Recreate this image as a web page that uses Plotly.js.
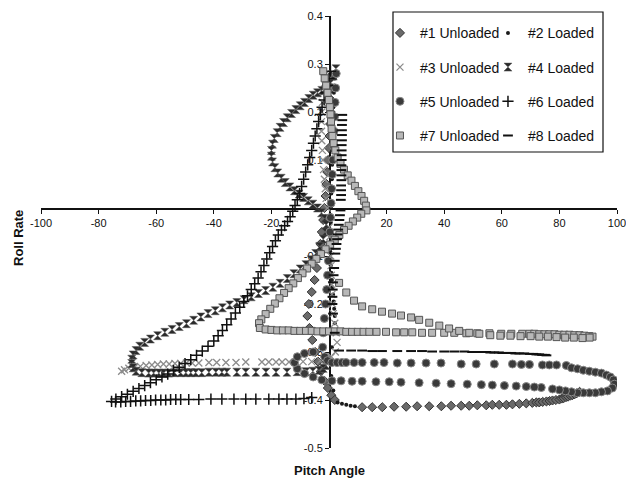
<!DOCTYPE html>
<html><head><meta charset="utf-8">
<script src="https://cdn.plot.ly/plotly-3.0.1.min.js"></script>
<style>html,body{margin:0;padding:0;background:#fff;}#chart{width:626px;height:481px;}</style>
</head><body><div id="chart"></div>
<script>
const seriesNames = ["#1 Unloaded","#2 Loaded","#3 Unloaded","#4 Loaded","#5 Unloaded","#6 Loaded","#7 Unloaded","#8 Loaded"];
const xTickVals = [-100,-80,-60,-40,-20,20,40,60,80,100];
const xTickText = ["-100","-80","-60","-40","-20","20","40","60","80","100"];
const yTickVals = [-0.5,-0.4,-0.3,-0.2,-0.1,0.1,0.2,0.3,0.4];
const yTickText = ["-0.5","-0.4","-0.3","-0.2","-0.1","0.1","0.2","0.3","0.4"];

const s1x = [1.2,1.0,0.8,0.6,0.4,0.2,0.0,-0.3,-0.6,-0.9,-1.2,-1.6,-2.0,-2.5,-3.0,-3.6,-4.2,-5.0,-6.0,-7.0,-7.5,-6.8,-5.8,-4.8,-3.8,-2.8,-1.6,-0.4,0.8,2.0,
 11.5,15.0,18.5,22.6,26.8,30.6,34.8,39.0,42.4,45.9,48.7,51.5,54.6,56.7,59.1,61.6,63.7,66.1,68.5,70.6,72.0,73.0,74.2,75.5,76.6,77.6,78.8,80.0,80.8,81.5,82.3,83.0,83.8,84.5,85.3,86.0,87.0];
const s1y = [0.275,0.25,0.225,0.2,0.175,0.15,0.125,0.1,0.075,0.05,0.025,0.0,-0.025,-0.05,-0.075,-0.1,-0.125,-0.15,-0.175,-0.2,-0.225,-0.25,-0.275,-0.3,-0.32,-0.34,-0.36,-0.375,-0.39,-0.4,
 -0.415,-0.415,-0.415,-0.414,-0.414,-0.413,-0.413,-0.413,-0.412,-0.412,-0.412,-0.411,-0.411,-0.41,-0.41,-0.41,-0.409,-0.408,-0.407,-0.406,-0.405,-0.405,-0.404,-0.403,-0.402,-0.401,-0.4,-0.399,-0.397,-0.396,-0.394,-0.393,-0.391,-0.39,-0.388,-0.386,-0.383];

const s2x = [2.0,1.8,1.7,1.6,1.5,1.5,1.4,1.4,1.3,1.3,1.2,1.2,1.1,1.0,1.0,0.9,0.8,0.8,0.7,0.6,0.6,0.5,0.5,0.4,0.4,0.5,0.6,0.8,1.0,1.2,1.4,1.6,1.8,2.0,2.0,1.5,1.0,0.5,0.8,1.5,3.0,4.5,6.0,7.5,9.0];
const s2y = [0.27,0.255,0.24,0.225,0.21,0.195,0.18,0.165,0.15,0.135,0.12,0.105,0.09,0.075,0.06,0.045,0.03,0.015,0.0,-0.015,-0.03,-0.045,-0.06,-0.075,-0.09,-0.105,-0.12,-0.135,-0.15,-0.165,-0.18,-0.195,-0.21,-0.225,-0.24,-0.26,-0.29,-0.32,-0.35,-0.38,-0.405,-0.408,-0.41,-0.412,-0.413];

const s3x = [-1.0,-1.5,-2.0,-2.3,-2.5,-2.6,-2.6,-2.5,-2.3,-2.1,-1.9,-1.6,-1.3,-1.0,-0.6,-0.3,0.0,0.3,0.5,0.6,0.7,0.8,0.9,1.0,1.2,1.5,2.0,2.5,2.8,2.2,
 0.8,-1.0,-3.0,-6.0,-9.0,-11.5,-13.9,-16.3,-18.4,-20.9,-23.3,-28.9,-32.3,-35.8,-39.0,-41.7,-45.2,-47.5,-49.5,-51.5,-53.5,-55.5,-57.5,-59.5,-61.5,-63.5,-65.5,-67.5,-69.5,-71.0,-72.0];
const s3y = [0.28,0.26,0.24,0.22,0.2,0.18,0.16,0.14,0.12,0.1,0.08,0.06,0.04,0.02,0.0,-0.02,-0.04,-0.06,-0.08,-0.1,-0.12,-0.14,-0.16,-0.18,-0.2,-0.22,-0.24,-0.26,-0.28,-0.3,
 -0.31,-0.315,-0.318,-0.32,-0.32,-0.321,-0.321,-0.321,-0.321,-0.321,-0.321,-0.321,-0.322,-0.322,-0.322,-0.322,-0.323,-0.323,-0.323,-0.324,-0.324,-0.325,-0.325,-0.326,-0.327,-0.328,-0.33,-0.332,-0.334,-0.337,-0.34];

const s4x = [2.4,1.5,0.5,-1.0,-2.5,-4.0,-5.5,-7.0,-8.5,-10.0,-11.5,-13.0,-14.5,-15.8,-17.0,-18.0,-19.0,-19.6,-20.0,-20.0,
 -19.6,-18.8,-17.8,-16.6,-15.2,-13.6,-12.0,-10.4,-8.8,-7.2,-5.6,-4.0,-2.6,-1.5,-1.0,-1.2,-2.0,-3.2,-4.6,-6.2,
 -8.0,-10.0,-12.2,-14.5,-17.0,-19.5,-22.0,-24.5,-27.0,-29.5,-32.0,-34.5,-37.0,-39.5,-42.0,-44.5,-47.0,-49.5,-52.0,-54.5,
 -57.0,-59.5,-62.0,-64.0,-65.7,-67.0,-68.0,-68.5,-68.5,-68.0,-67.0,-65.0,-62.6,-60.9,-59.1,-57.4,-55.7,-53.6,-51.5,-49.7,
 -48.0,-46.3,-44.2,-41.7,-39.3,-37.2,-35.5,-32.0,-28.9,-25.4,-21.9,-18.4,-14.6,-11.1,-8.0,-5.6,-3.5,-2.0,-1.0];
const s4y = [0.29,0.275,0.26,0.25,0.245,0.24,0.235,0.228,0.22,0.213,0.205,0.197,0.188,0.178,0.168,0.157,0.145,0.133,0.12,0.108,
 0.096,0.084,0.073,0.062,0.053,0.044,0.036,0.029,0.022,0.015,0.008,0.0,-0.01,-0.022,-0.035,-0.05,-0.065,-0.08,-0.095,-0.108,
 -0.118,-0.127,-0.137,-0.147,-0.157,-0.165,-0.172,-0.178,-0.185,-0.191,-0.197,-0.202,-0.208,-0.214,-0.22,-0.227,-0.234,-0.241,-0.247,-0.253,
 -0.259,-0.266,-0.273,-0.28,-0.288,-0.297,-0.306,-0.315,-0.324,-0.333,-0.34,-0.343,-0.344,-0.344,-0.344,-0.344,-0.344,-0.343,-0.343,-0.343,
 -0.343,-0.343,-0.343,-0.342,-0.342,-0.342,-0.342,-0.342,-0.342,-0.342,-0.342,-0.342,-0.342,-0.341,-0.341,-0.34,-0.338,-0.334,-0.328];

const s5x = [2.5,2.3,2.1,1.9,1.7,1.5,1.3,1.1,0.9,0.7,0.5,0.3,0.1,-0.2,-0.5,-0.8,-1.2,-1.6,-2.0,-2.2,-1.5,-0.5,
 1.0,2.8,4.5,5.9,8.7,11.5,15.7,19.1,23.7,28.5,33.7,38.9,45.9,51.1,57.4,63.7,66.8,69.6,74.1,76.5,79.0,82.4,
 84.2,86.3,88.3,90.4,92.5,94.6,96.3,97.7,98.8,99.1,98.4,96.7,94.6,92.5,90.4,88.3,86.3,84.2,82.1,80.0,77.6,
 73.7,71.3,68.5,65.0,60.9,56.7,52.9,48.0,42.4,37.2,31.3,25.0,20.9,16.3,11.5,8.0,4.2,1.0,
 -2.5,-5.5,-8.5,-11.0,-12.0,-11.0,-8.5,-5.5];
const s5y = [0.28,0.25,0.22,0.19,0.16,0.13,0.1,0.07,0.04,0.01,-0.02,-0.05,-0.08,-0.11,-0.14,-0.17,-0.2,-0.23,-0.26,-0.29,-0.31,-0.318,
 -0.322,-0.322,-0.322,-0.322,-0.322,-0.322,-0.322,-0.322,-0.323,-0.323,-0.323,-0.323,-0.325,-0.325,-0.325,-0.325,-0.326,-0.326,-0.327,-0.327,-0.327,-0.328,
 -0.333,-0.335,-0.338,-0.34,-0.342,-0.344,-0.348,-0.352,-0.358,-0.367,-0.375,-0.381,-0.383,-0.385,-0.385,-0.385,-0.385,-0.383,-0.381,-0.379,-0.377,
 -0.374,-0.373,-0.372,-0.371,-0.37,-0.369,-0.368,-0.367,-0.366,-0.365,-0.364,-0.363,-0.362,-0.362,-0.361,-0.361,-0.36,-0.36,
 -0.358,-0.352,-0.345,-0.335,-0.322,-0.31,-0.303,-0.3];

const s6x = [0.5,0.0,-0.5,-1.0,-1.7,-2.4,-3.0,-3.6,-4.2,-4.8,-5.4,-6.0,-6.7,-7.4,-8.1,-8.8,-9.5,-10.2,-11.0,-11.8,
 -12.6,-13.5,-14.4,-15.4,-16.5,-17.6,-18.6,-19.6,-20.6,-21.6,-22.6,-23.6,-24.6,-25.8,-27.0,-28.3,-29.6,-31.0,-32.5,-34.0,
 -35.5,-37.0,-38.5,-40.0,-42.0,-44.0,-46.0,-48.0,-50.0,-52.0,-54.0,-56.0,-58.0,-60.0,-62.0,-64.0,-66.0,-68.0,-70.0,-72.0,
 -74.0,-75.5,-74.1,-72.3,-70.6,-68.9,-67.1,-65.4,-63.7,-61.9,-60.2,-58.4,-56.7,-55.0,-53.2,-51.5,
 -48.7,-45.2,-41.0,-37.2,-33.0,-28.9,-25.4,-20.9,-17.4,-14.6,-11.5,-8.7,-6.0];
const s6y = [0.285,0.27,0.255,0.24,0.225,0.21,0.195,0.18,0.165,0.15,0.135,0.12,0.105,0.09,0.075,0.06,0.045,0.03,0.017,0.005,
 -0.007,-0.018,-0.028,-0.037,-0.046,-0.056,-0.068,-0.08,-0.093,-0.106,-0.12,-0.133,-0.146,-0.158,-0.17,-0.183,-0.195,-0.207,-0.219,-0.231,
 -0.243,-0.255,-0.266,-0.277,-0.288,-0.298,-0.307,-0.316,-0.324,-0.332,-0.339,-0.346,-0.352,-0.358,-0.364,-0.37,-0.376,-0.382,-0.388,-0.393,
 -0.398,-0.403,-0.404,-0.404,-0.403,-0.403,-0.402,-0.402,-0.401,-0.401,-0.4,-0.4,-0.4,-0.399,-0.399,-0.399,
 -0.399,-0.399,-0.398,-0.398,-0.398,-0.398,-0.398,-0.398,-0.398,-0.398,-0.398,-0.397,-0.395];

const s7x = [-2.0,-1.5,-1.0,-0.5,0.0,0.3,0.5,0.7,0.9,1.2,1.6,2.2,3.0,4.0,5.2,6.5,7.8,9.0,10.2,11.3,12.2,12.8,13.0,
 11.2,9.8,8.3,6.8,5.2,3.6,2.0,0.4,-1.2,-2.8,-4.4,-6.0,-7.6,-9.2,-10.8,-12.4,-14.0,-15.6,-17.2,-18.8,-20.4,-22.0,-23.5,-24.3,
 -24.0,-22.0,-20.0,-18.0,-16.0,-14.0,-12.0,-10.0,-8.0,-6.0,-4.0,-2.0,0.0,2.0,4.0,6.0,8.0,10.0,12.0,14.0,
 16.5,19.8,23.3,26.1,28.9,32.3,35.8,40.0,43.5,47.7,51.5,55.7,59.8,63.3,67.1,
 69.6,71.3,73.0,74.8,76.5,78.3,80.0,81.7,83.5,85.2,87.0,88.7,90.4,91.5,
 90.5,88.0,85.0,82.0,79.0,76.0,73.0,70.0,66.5,63.0,59.5,56.0,52.2,48.7,45.2,41.7,38.3,34.8,31.3,28.5,25.0,21.9,18.4,15.0,11.5,8.7,6.0,3.5];
const s7y = [0.285,0.27,0.255,0.24,0.225,0.21,0.195,0.18,0.165,0.15,0.135,0.12,0.105,0.092,0.08,0.068,0.057,0.046,0.035,0.025,0.015,0.005,-0.005,
 -0.012,-0.02,-0.028,-0.037,-0.046,-0.056,-0.066,-0.076,-0.086,-0.096,-0.106,-0.116,-0.126,-0.136,-0.146,-0.157,-0.167,-0.177,-0.188,-0.199,-0.21,-0.221,-0.232,-0.24,
 -0.25,-0.253,-0.254,-0.255,-0.255,-0.255,-0.256,-0.256,-0.256,-0.256,-0.257,-0.257,-0.257,-0.257,-0.257,-0.258,-0.258,-0.258,-0.258,-0.258,
 -0.258,-0.258,-0.259,-0.259,-0.259,-0.26,-0.26,-0.26,-0.26,-0.261,-0.261,-0.261,-0.262,-0.262,-0.262,
 -0.262,-0.262,-0.263,-0.263,-0.263,-0.263,-0.264,-0.264,-0.264,-0.265,-0.265,-0.266,-0.267,-0.268,
 -0.27,-0.271,-0.27,-0.27,-0.269,-0.268,-0.268,-0.267,-0.267,-0.266,-0.266,-0.265,-0.262,-0.26,-0.256,-0.251,-0.245,-0.239,-0.233,-0.228,-0.224,-0.22,-0.216,-0.211,-0.205,-0.193,-0.176,-0.156];

const s8x = [4.6,4.6,4.5,4.5,4.5,4.5,4.4,4.4,4.4,4.4,4.3,4.3,4.3,4.3,4.2,4.2,4.2,4.1,
 4.0,3.8,3.6,3.4,3.2,3.0,2.8,2.6,2.4,2.2,2.0,1.8,1.6,1.4,1.3,1.2,1.2,1.4,2.0,
 3.5,7.7,11.5,15.0,18.4,23.7,28.5,32.3,35.8,40.0,43.5,47.0,49.7,
 52.0,54.6,56.0,57.4,59.0,60.2,61.7,63.3,64.7,66.1,67.8,69.6,71.0,72.0,73.0,74.0,75.0,75.5];
const s8y = [0.194,0.183,0.173,0.162,0.152,0.141,0.131,0.12,0.11,0.1,0.089,0.079,0.068,0.058,0.047,0.037,0.027,0.017,
 -0.005,-0.015,-0.025,-0.035,-0.045,-0.055,-0.065,-0.075,-0.085,-0.095,-0.11,-0.125,-0.14,-0.155,-0.17,-0.185,-0.2,-0.22,-0.26,
 -0.297,-0.297,-0.297,-0.298,-0.298,-0.298,-0.298,-0.298,-0.299,-0.299,-0.299,-0.299,-0.3,
 -0.3,-0.3,-0.301,-0.301,-0.301,-0.302,-0.302,-0.302,-0.303,-0.303,-0.303,-0.304,-0.304,-0.305,-0.305,-0.306,-0.306,-0.307];

const FONT = 'Arial, "Liberation Sans", Helvetica, sans-serif';
const styles = [
  {symbol:'diamond', size:7, color:'#6a6a6a', line:{color:'#333', width:1}},
  {symbol:'circle', size:4, color:'#1a1a1a', line:{width:0}},
  {symbol:'x-thin-open', size:7, color:'#8c8c8c', line:{color:'#8c8c8c', width:1.3}},
  {symbol:'hourglass', size:8, color:'#2a2a2a', line:{color:'#555', width:0.5}},
  {symbol:'circle', size:8, color:'#3a3a3a', line:{color:'#8a8a8a', width:1}},
  {symbol:'cross-thin-open', size:8, color:'#111', line:{color:'#111', width:1.5}},
  {symbol:'square', size:7, color:'#b8b8b8', line:{color:'#555', width:1}},
  {symbol:'line-ew-open', size:7, color:'#111', line:{color:'#111', width:2}}
];
const xs = [s1x,s2x,s3x,s4x,s5x,s6x,s7x,s8x];
const ys = [s1y,s2y,s3y,s4y,s5y,s6y,s7y,s8y];
const traces = xs.map((x,i)=>({
  type:'scatter', mode:'markers', x:x, y:ys[i], name:seriesNames[i],
  marker:styles[i], legendgroup:'g'+i, legend: (i%2===0)?'legend':'legend2',
  hoverinfo:'skip'
}));

const legendCommon = {xanchor:'left', yanchor:'top', bgcolor:'rgba(0,0,0,0)', borderwidth:0,
  font:{family:FONT, size:14, color:'#111'}, tracegroupgap:13, orientation:'v'};

const layout = {
  width:626, height:481,
  margin:{l:41, r:9, t:16, b:33, pad:0},
  paper_bgcolor:'#fff', plot_bgcolor:'#fff',
  font:{family:FONT, color:'#111'},
  xaxis:{range:[-100,100], anchor:'free', position:5/9, showgrid:false, zeroline:false,
    showline:true, linecolor:'#111', linewidth:1.5, ticks:'outside', ticklen:4, tickcolor:'#111',
    tickvals:xTickVals, ticktext:xTickText, tickfont:{family:FONT, size:11, color:'#111'},
    ticklabeloverflow:'allow', layer:'below traces', automargin:false},
  yaxis:{range:[-0.5,0.4], anchor:'free', position:0.5, showgrid:false, zeroline:false,
    showline:true, linecolor:'#111', linewidth:1.5, ticks:'outside', ticklen:4, tickcolor:'#111',
    tickvals:yTickVals, ticktext:yTickText, tickfont:{family:FONT, size:11, color:'#111'},
    ticklabeloverflow:'allow', layer:'below traces', automargin:false},
  legend:Object.assign({x:0.5885, y:0.997}, legendCommon),
  legend2:Object.assign({x:0.776, y:0.997}, legendCommon),
  shapes:[{type:'rect', xref:'paper', yref:'paper', x0:0.6111, x1:0.9757, y0:0.6852, y1:1.0093,
    line:{color:'#111', width:1.2}, fillcolor:'#fff', layer:'above'}],
  annotations:[
    {text:'<b>Pitch Angle</b>', xref:'paper', yref:'paper', x:0.5, y:-0.051, showarrow:false,
      xanchor:'center', yanchor:'middle', font:{family:FONT, size:13, color:'#111'}},
    {text:'<b>Roll Rate</b>', xref:'paper', yref:'paper', x:-0.04, y:0.486, showarrow:false,
      textangle:-90, xanchor:'center', yanchor:'middle', font:{family:FONT, size:13, color:'#111'}}
  ],
  showlegend:true
};
Plotly.newPlot('chart', traces, layout, {displayModeBar:false, staticPlot:true});
</script></body></html>
